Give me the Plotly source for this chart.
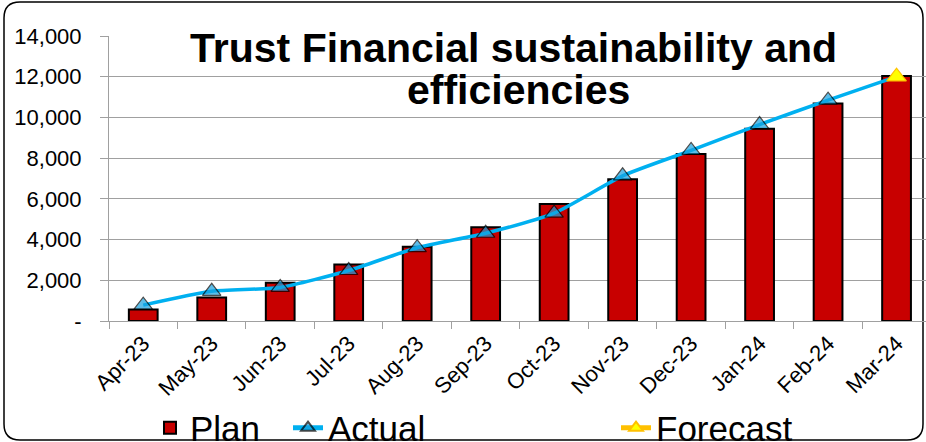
import plotly.graph_objects as go

# Monthly cumulative figures (£000)
months = ["Apr-23", "May-23", "Jun-23", "Jul-23", "Aug-23", "Sep-23",
          "Oct-23", "Nov-23", "Dec-23", "Jan-24", "Feb-24", "Mar-24"]
plan = [560, 1150, 1880, 2780, 3650, 4600, 5750, 6960, 8200, 9450, 10680, 12030]
actual = [780, 1460, 1650, 2480, 3600, 4310, 5300, 7130, 8380, 9650, 10850]
forecast_month = ["Mar-24"]
forecast = [12000]

y_ticks = [0, 2000, 4000, 6000, 8000, 10000, 12000, 14000]
y_ticktext = ["-", "2,000", "4,000", "6,000", "8,000", "10,000", "12,000", "14,000"]

W, H = 926, 442
ML, MR, MT, MB = 109, 0, 36, 121
PW, PH = W - ML - MR, H - MT - MB
FONT = "Liberation Sans, Arial, sans-serif"


def px_x(px):
    return (px - ML) / PW


def px_y(py):
    return (H - MB - py) / PH


fig = go.Figure()

fig.add_trace(go.Bar(
    x=months, y=plan, name="Plan", width=0.42,
    marker=dict(color="#C80000", line=dict(color="#000000", width=2)),
    legend="legend",
))

# Actual line runs on into the year-end forecast point
line_x = months[:len(actual)] + forecast_month
line_y = actual + forecast
fig.add_trace(go.Scatter(
    x=line_x, y=line_y, name="Actual", mode="lines+markers",
    line=dict(color="#00B0F0", width=3.5, shape="spline", smoothing=0.6),
    marker=dict(symbol="triangle-up", size=[16] * len(actual) + [0],
                color="#17A2E0", line=dict(color="#000000", width=1.2)),
    legend="legend2",
))

fig.add_trace(go.Scatter(
    x=forecast_month, y=forecast, name="Forecast", mode="lines+markers",
    line=dict(color="#FFC000", width=3.5),
    marker=dict(symbol="triangle-up", size=17, color="#FFFF00",
                line=dict(color="#FFC000", width=1.2)),
    legend="legend3",
))

# Rounded chart frame
x0, x1, y0, y1, r = 4, 923, 2, 440, 16
pts = [
    f"M {px_x(x0 + r)},{px_y(y0)}",
    f"L {px_x(x1 - r)},{px_y(y0)}",
    f"Q {px_x(x1)},{px_y(y0)} {px_x(x1)},{px_y(y0 + r)}",
    f"L {px_x(x1)},{px_y(y1 - r)}",
    f"Q {px_x(x1)},{px_y(y1)} {px_x(x1 - r)},{px_y(y1)}",
    f"L {px_x(x0 + r)},{px_y(y1)}",
    f"Q {px_x(x0)},{px_y(y1)} {px_x(x0)},{px_y(y1 - r)}",
    f"L {px_x(x0)},{px_y(y0 + r)}",
    f"Q {px_x(x0)},{px_y(y0)} {px_x(x0 + r)},{px_y(y0)} Z",
]
fig.add_shape(type="path", path=" ".join(pts), xref="paper", yref="paper",
              line=dict(color="#000000", width=1.5), layer="below")

title_font = dict(family=FONT, size=41, color="#000000")
fig.add_annotation(text="<b>Trust Financial sustainability and</b>",
                   x=px_x(513), y=px_y(48), xref="paper", yref="paper",
                   xanchor="center", yanchor="middle", showarrow=False,
                   font=title_font)
fig.add_annotation(text="<b>efficiencies</b>",
                   x=px_x(518), y=px_y(90), xref="paper", yref="paper",
                   xanchor="center", yanchor="middle", showarrow=False,
                   font=title_font)

legend_common = dict(orientation="h", xanchor="left", yanchor="middle",
                     font=dict(family=FONT, size=35, color="#000000"),
                     bgcolor="rgba(0,0,0,0)", itemsizing="constant")

fig.update_layout(
    width=W, height=H,
    margin=dict(l=ML, r=MR, t=MT, b=MB, autoexpand=False),
    paper_bgcolor="#FFFFFF", plot_bgcolor="#FFFFFF",
    font=dict(family=FONT, size=21, color="#000000"),
    bargap=0.58,
    showlegend=True,
    legend=dict(x=px_x(150), y=px_y(428), **legend_common),
    legend2=dict(x=px_x(288), y=px_y(428), **legend_common),
    legend3=dict(x=px_x(616), y=px_y(428), **legend_common),
    xaxis=dict(
        type="category", categoryorder="array", categoryarray=months,
        range=[-0.5, 11.43], tickangle=-45,
        ticks="outside", tickson="boundaries", ticklen=7,
        tickcolor="#A0A0A0", showline=True, linecolor="#A0A0A0", linewidth=1,
        showgrid=False, tickfont=dict(family=FONT, size=22),
    ),
    yaxis=dict(
        range=[0, 14000], tickvals=y_ticks, ticktext=y_ticktext,
        ticks="outside", ticklen=8, tickcolor="#A0A0A0",
        ticklabelstandoff=14,
        showline=True, linecolor="#A0A0A0", linewidth=1,
        showgrid=True, gridcolor="#A0A0A0", gridwidth=1,
        zeroline=False, tickfont=dict(family=FONT, size=22),
    ),
)

fig.write_html("out.html")
